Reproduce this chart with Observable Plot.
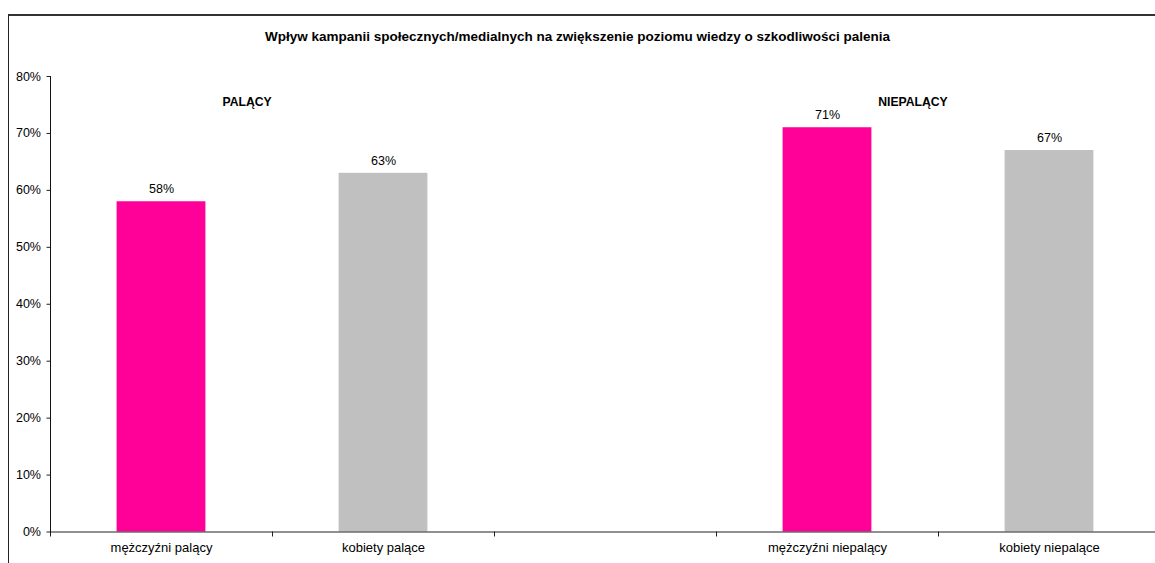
<!DOCTYPE html>
<html>
<head>
<meta charset="utf-8">
<script src="https://cdn.jsdelivr.net/npm/d3@7"></script>
<script src="https://cdn.jsdelivr.net/npm/@observablehq/plot@0.6"></script>
<style>
  html, body { margin: 0; padding: 0; background: #fff; overflow: hidden; }
  #wrap { position: relative; width: 1155px; height: 563px; overflow: hidden; font-family: "Liberation Sans", Arial, sans-serif; }
  #border { position: absolute; left: 8px; top: 14px; width: 1160px; height: 600px; border-left: 1px solid #222; border-top: 2px solid #333; }
  #title { position: absolute; left: 0; width: 1155px; top: 29px; text-align: center; font-weight: bold; font-size: 13.5px; line-height: 16px; color: #000; }
  #chart { position: absolute; left: 0; top: 0; width: 1160px; }
  #chart svg { max-width: none !important; }
</style>
</head>
<body>
<div id="wrap">
  <div id="chart"></div>
  <div id="border"></div>
  <div id="title">Wpływ kampanii społecznych/medialnych na zwiększenie poziomu wiedzy o szkodliwości palenia</div>
</div>
<script>
const categories = ["mężczyźni palący", "kobiety palące", "", "mężczyźni niepalący", "kobiety niepalące"];
const barCategories = ["mężczyźni palący", "kobiety palące", "mężczyźni niepalący", "kobiety niepalące"];
const values = [0.58, 0.63, 0.71, 0.67];
const barColors = ["#FF0099", "#C0C0C0", "#FF0099", "#C0C0C0"];
const groupLabels = ["PALĄCY", "NIEPALĄCY"];
const groupAnchors = ["kobiety palące", "kobiety niepalące"];
const groupLevel = 0.755;
const yTicks = [0, 0.1, 0.2, 0.3, 0.4, 0.5, 0.6, 0.7, 0.8];

const bars = barCategories.map((c, i) => ({cat: c, value: values[i], color: barColors[i]}));
const groups = groupLabels.map((g, i) => ({label: g, cat: groupAnchors[i], y: groupLevel}));

const W = 1160, mL = 50, mR = 0, mT = 76, mB = 31.5, H = 563;
const bw = (W - mL - mR) / categories.length;

const plot = Plot.plot({
  width: W,
  height: H,
  marginLeft: mL,
  marginRight: mR,
  marginTop: mT,
  marginBottom: mB,
  style: {fontFamily: "'Liberation Sans', Arial, sans-serif", fontSize: "12px", color: "#000", background: "transparent", maxWidth: "none"},
  x: {domain: categories, padding: 0, paddingInner: 0, paddingOuter: 0},
  y: {domain: [0, 0.8]},
  marks: [
    Plot.barY(bars, {x: "cat", y: "value", fill: "color", insetLeft: bw * 0.3, insetRight: bw * 0.3}),
    Plot.text(bars, {x: "cat", y: "value", text: d => Math.round(d.value * 100) + "%", dy: -12.5, fontSize: 12.5, fill: "#000"}),
    Plot.text(groups, {x: "cat", y: "y", text: "label", dx: -bw / 2 - 25.5, fontWeight: "bold", fontSize: 12.2, fill: "#000"}),
    Plot.axisY({ticks: yTicks, tickFormat: d => Math.round(d * 100) + "%", tickSize: 3.5, tickPadding: 6, label: null, stroke: "#222", fontSize: 12.5}),
    Plot.axisX({ticks: categories.filter(c => c !== ""), tickSize: 0, tickPadding: 11, label: null, fontSize: 13}),
    Plot.axisX({ticks: categories, tickSize: 5, tickFormat: () => "", dx: -bw / 2, label: null, stroke: "#222"}),
    Plot.ruleY([0], {stroke: "#222"}),
    Plot.frame({anchor: "left", stroke: "#111"})
  ]
});
document.getElementById("chart").appendChild(plot);
</script>
</body>
</html>
